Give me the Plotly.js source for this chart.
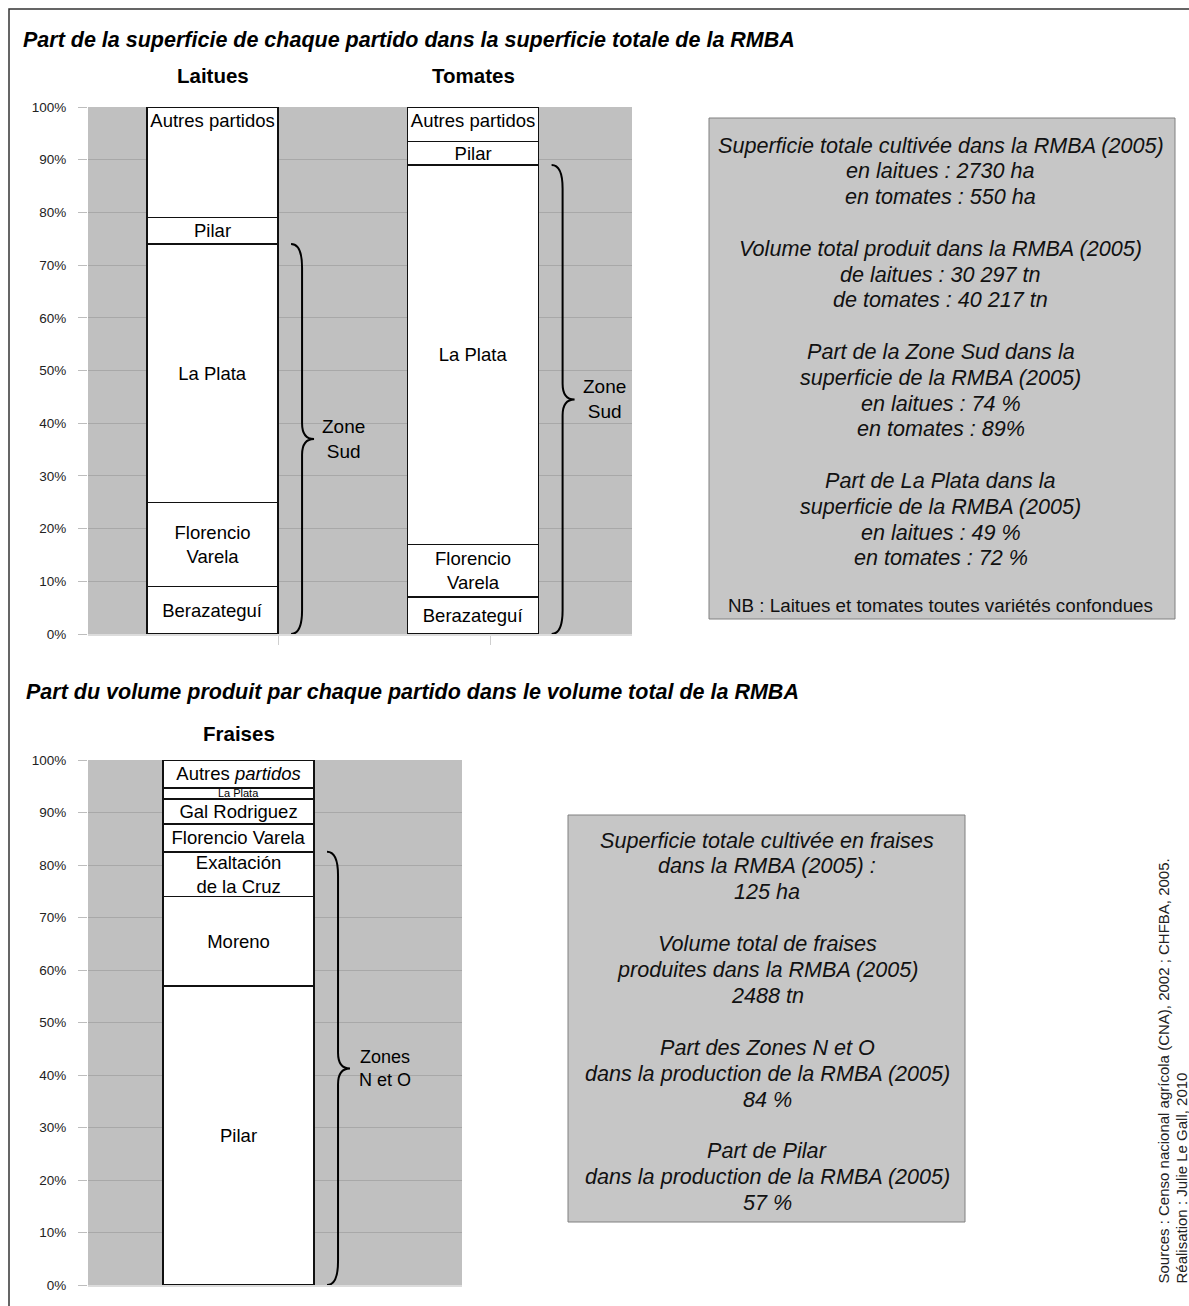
<!DOCTYPE html>
<html>
<head>
<meta charset="utf-8">
<script src="https://cdn.plot.ly/plotly-3.0.1.min.js"></script>
<style>
  html, body { margin: 0; padding: 0; background: #fff; }
  #chart { width: 1189px; height: 1306px; }
</style>
</head>
<body>
<div id="chart"></div>
<script>
// ---------------- DATA ----------------
const titleTop = 'Part de la superficie de chaque partido dans la superficie totale de la RMBA';
const titleBottom = 'Part du volume produit par chaque partido dans le volume total de la RMBA';

const cropsTop = ['Laitues', 'Tomates'];
const partidosTop = ['Berazateguí', 'Florencio<br>Varela', 'La Plata', 'Pilar', 'Autres partidos'];
const laitues = [9, 16, 49, 5, 21];      // % de la superficie
const tomates = [7, 10, 72, 4.5, 6.5];   // % de la superficie
const zoneTopCount = 3;                  // Berazateguí + Florencio Varela + La Plata = Zone Sud
const zoneTopLabel = 'Zone<br>Sud';

const cropsBottom = ['Fraises'];
const partidosFraises = ['Pilar', 'Moreno', 'Exaltación<br>de la Cruz', 'Florencio Varela', 'Gal Rodriguez', 'La Plata', 'Autres <i>partidos</i>'];
const fraises = [57, 17, 8.5, 5.3, 4.8, 2.1, 5.3]; // % du volume
const zoneFraisesCount = 3;              // Pilar + Moreno + Exaltación = Zones N et O
const zoneFraisesLabel = 'Zones<br>N et O';

const yTickVals = [0, 10, 20, 30, 40, 50, 60, 70, 80, 90, 100];
const yTickText = ['0%', '10%', '20%', '30%', '40%', '50%', '60%', '70%', '80%', '90%', '100%'];

const box1Lines = [
  'Superficie totale cultivée dans la RMBA (2005)',
  'en laitues : 2730 ha',
  'en tomates : 550 ha',
  '',
  'Volume total produit dans la RMBA (2005)',
  'de laitues : 30 297 tn',
  'de tomates : 40 217 tn',
  '',
  'Part de la Zone Sud dans la',
  'superficie de la RMBA (2005)',
  'en laitues : 74 %',
  'en tomates : 89%',
  '',
  'Part de La Plata dans la',
  'superficie de la RMBA (2005)',
  'en laitues : 49 %',
  'en tomates : 72 %'
];
const box1Note = 'NB : Laitues et tomates toutes variétés confondues';

const box2Lines = [
  'Superficie totale cultivée en fraises',
  'dans la RMBA (2005) :',
  '125 ha',
  '',
  'Volume total de fraises',
  'produites dans la RMBA (2005)',
  '2488 tn',
  '',
  'Part des Zones N et O',
  'dans la production de la RMBA (2005)',
  '84 %',
  '',
  'Part de Pilar',
  'dans la production de la RMBA (2005)',
  '57 %'
];
const sourceLines = [
  'Sources : Censo nacional agrícola (CNA), 2002 ; CHFBA, 2005.',
  'Réalisation : Julie Le Gall, 2010'
];

// ---------------- LAYOUT HELPERS ----------------
const W = 1189, H = 1306;
const px = x => x / W;
const py = y => 1 - y / H;
const FONT = 'Liberation Sans, Arial, sans-serif';

const topRange = [-0.478, 1.610], topBarW = 0.503;
const botRange = [-0.997, 1.480], botBarW = 1.0;
const topPlotPx = [88, 632], botPlotPx = [88, 462];
const uTop = (topRange[1] - topRange[0]) / (topPlotPx[1] - topPlotPx[0]);
const uBot = (botRange[1] - botRange[0]) / (botPlotPx[1] - botPlotPx[0]);

const sum = a => a.reduce((s, v) => s + v, 0);

const traces = [];
const barStyle = {color: '#ffffff', line: {color: '#111111', width: 1.5}};

partidosTop.forEach((name, i) => {
  traces.push({
    type: 'bar',
    x: cropsTop.map((c, k) => k),
    y: [laitues[i], tomates[i]],
    width: topBarW,
    name: name,
    text: [name, name],
    textposition: 'inside',
    insidetextanchor: i === partidosTop.length - 1 ? 'end' : 'middle',
    textangle: 0,
    constraintext: 'none',
    textfont: {family: FONT, size: 18.5, color: '#000'},
    marker: barStyle,
    hoverinfo: 'skip',
    xaxis: 'x', yaxis: 'y'
  });
});

partidosFraises.forEach((name, i) => {
  const small = name === 'La Plata';
  traces.push({
    type: 'bar',
    x: cropsBottom.map((c, k) => k),
    y: [fraises[i]],
    width: botBarW,
    name: name,
    text: [name],
    textposition: 'inside',
    insidetextanchor: 'middle',
    textangle: 0,
    constraintext: 'none',
    textfont: {family: FONT, size: small ? 11 : 18.5, color: '#000'},
    marker: barStyle,
    hoverinfo: 'skip',
    xaxis: 'x2', yaxis: 'y2'
  });
});

// ---------------- BRACES ----------------
function bracePath(xRight, top, u) {
  const x0 = xRight + 13 * u, x1 = xRight + 24 * u, x2 = xRight + 36 * u;
  const m = top / 2, ce = 4.5, ct = 3;
  return `M ${x0},${top} Q ${x1},${top} ${x1},${top - ce} L ${x1},${m + ct} ` +
         `Q ${x1},${m} ${x2},${m} Q ${x1},${m} ${x1},${m - ct} L ${x1},${ce} Q ${x1},0 ${x0},0`;
}

const shapes = [];
const annotations = [];

// outer frame
shapes.push({type: 'rect', xref: 'paper', yref: 'paper', x0: px(9), x1: px(1200), y0: py(1320), y1: py(9),
  line: {color: '#333', width: 1.5}, fillcolor: 'rgba(0,0,0,0)', layer: 'below'});

const topSeries = [laitues, tomates];
cropsTop.forEach((c, k) => {
  const xr = k + topBarW / 2;
  const zoneTop = sum(topSeries[k].slice(0, zoneTopCount));
  shapes.push({type: 'path', xref: 'x', yref: 'y', path: bracePath(xr, zoneTop, uTop),
    line: {color: '#000', width: 2}});
  annotations.push({xref: 'x', yref: 'y', x: xr, y: zoneTop / 2, xanchor: 'left', yanchor: 'middle',
    xshift: 42, text: zoneTopLabel, showarrow: false, align: 'center',
    font: {family: FONT, size: 19, color: '#000'}});
  annotations.push({xref: 'x', yref: 'paper', x: k, y: py(76), xanchor: 'center', yanchor: 'middle',
    text: '<b>' + c + '</b>', showarrow: false, font: {family: FONT, size: 20.5, color: '#000'}});
});

cropsBottom.forEach((c, k) => {
  const xr = k + botBarW / 2;
  const zoneTop = sum(fraises.slice(0, zoneFraisesCount));
  shapes.push({type: 'path', xref: 'x2', yref: 'y2', path: bracePath(xr, zoneTop, uBot),
    line: {color: '#000', width: 2}});
  annotations.push({xref: 'x2', yref: 'y2', x: xr, y: zoneTop / 2, xanchor: 'left', yanchor: 'middle',
    xshift: 43, text: zoneFraisesLabel, showarrow: false, align: 'center',
    font: {family: FONT, size: 18, color: '#000'}});
  annotations.push({xref: 'x2', yref: 'paper', x: k, y: py(733), xanchor: 'center', yanchor: 'middle',
    text: '<b>' + c + '</b>', showarrow: false, font: {family: FONT, size: 20.5, color: '#000'}});
});

// section titles
annotations.push({xref: 'paper', yref: 'paper', x: px(21), y: py(40), xanchor: 'left', yanchor: 'middle',
  text: '<b><i>' + titleTop + '</i></b>', showarrow: false, font: {family: FONT, size: 21.5, color: '#000'}});
annotations.push({xref: 'paper', yref: 'paper', x: px(24), y: py(692), xanchor: 'left', yanchor: 'middle',
  text: '<b><i>' + titleBottom + '</i></b>', showarrow: false, font: {family: FONT, size: 21.5, color: '#000'}});

// text box 1
shapes.push({type: 'rect', xref: 'paper', yref: 'paper', x0: px(709), x1: px(1175), y0: py(619), y1: py(118),
  line: {color: '#808080', width: 1}, fillcolor: '#c6c6c6', layer: 'below'});
box1Lines.forEach((t, i) => {
  if (!t) return;
  annotations.push({xref: 'paper', yref: 'paper', x: px(941), y: py(145 + i * 25.8), xanchor: 'center', yanchor: 'middle',
    text: '<i>' + t + '</i>', showarrow: false, font: {family: FONT, size: 21.6, color: '#111'}});
});
annotations.push({xref: 'paper', yref: 'paper', x: px(941), y: py(605), xanchor: 'center', yanchor: 'middle',
  text: box1Note, showarrow: false, font: {family: FONT, size: 18.8, color: '#111'}});

// text box 2
shapes.push({type: 'rect', xref: 'paper', yref: 'paper', x0: px(568), x1: px(965), y0: py(1222), y1: py(815),
  line: {color: '#808080', width: 1}, fillcolor: '#c6c6c6', layer: 'below'});
box2Lines.forEach((t, i) => {
  if (!t) return;
  annotations.push({xref: 'paper', yref: 'paper', x: px(767), y: py(840 + i * 25.9), xanchor: 'center', yanchor: 'middle',
    text: '<i>' + t + '</i>', showarrow: false, font: {family: FONT, size: 21.6, color: '#111'}});
});

// sources (rotated)
sourceLines.forEach((t, i) => {
  annotations.push({xref: 'paper', yref: 'paper', x: px(1163 + i * 18), y: py(1286), xanchor: 'center', yanchor: 'bottom',
    text: t, textangle: -90, showarrow: false, font: {family: FONT, size: 15, color: '#222'}});
});

const yAxisCommon = {
  range: [0, 100], tickvals: yTickVals, ticktext: yTickText, ticks: 'outside', ticklen: 9,
  tickcolor: '#bdbdbd', tickwidth: 1, ticklabelstandoff: 9,
  tickfont: {family: FONT, size: 13.5, color: '#222'}, showgrid: true, gridcolor: '#a8a8a8', gridwidth: 1,
  zeroline: false, showline: false, fixedrange: true
};

const layout = {
  width: W, height: H,
  margin: {l: 0, r: 0, t: 0, b: 0, pad: 0},
  paper_bgcolor: '#ffffff',
  plot_bgcolor: '#c0c0c0',
  barmode: 'stack',
  showlegend: false,
  hovermode: false,
  font: {family: FONT, color: '#000'},
  xaxis: {domain: [px(topPlotPx[0]), px(topPlotPx[1])], range: topRange, anchor: 'y',
    tickvals: [0.2514, 1.065], ticks: 'outside', ticklen: 9, tickcolor: '#cfcfcf', showticklabels: false,
    showgrid: false, zeroline: false, showline: true, linecolor: '#dcdcdc', linewidth: 2, fixedrange: true},
  yaxis: Object.assign({domain: [py(634), py(107)], anchor: 'x'}, yAxisCommon),
  xaxis2: {domain: [px(botPlotPx[0]), px(botPlotPx[1])], range: botRange, anchor: 'y2',
    showticklabels: false, ticks: '', showgrid: false, zeroline: false,
    showline: true, linecolor: '#dcdcdc', linewidth: 2, fixedrange: true},
  yaxis2: Object.assign({domain: [py(1285), py(760)], anchor: 'x2'}, yAxisCommon),
  shapes: shapes,
  annotations: annotations
};

Plotly.newPlot('chart', traces, layout, {staticPlot: true, displayModeBar: false});
</script>
</body>
</html>
